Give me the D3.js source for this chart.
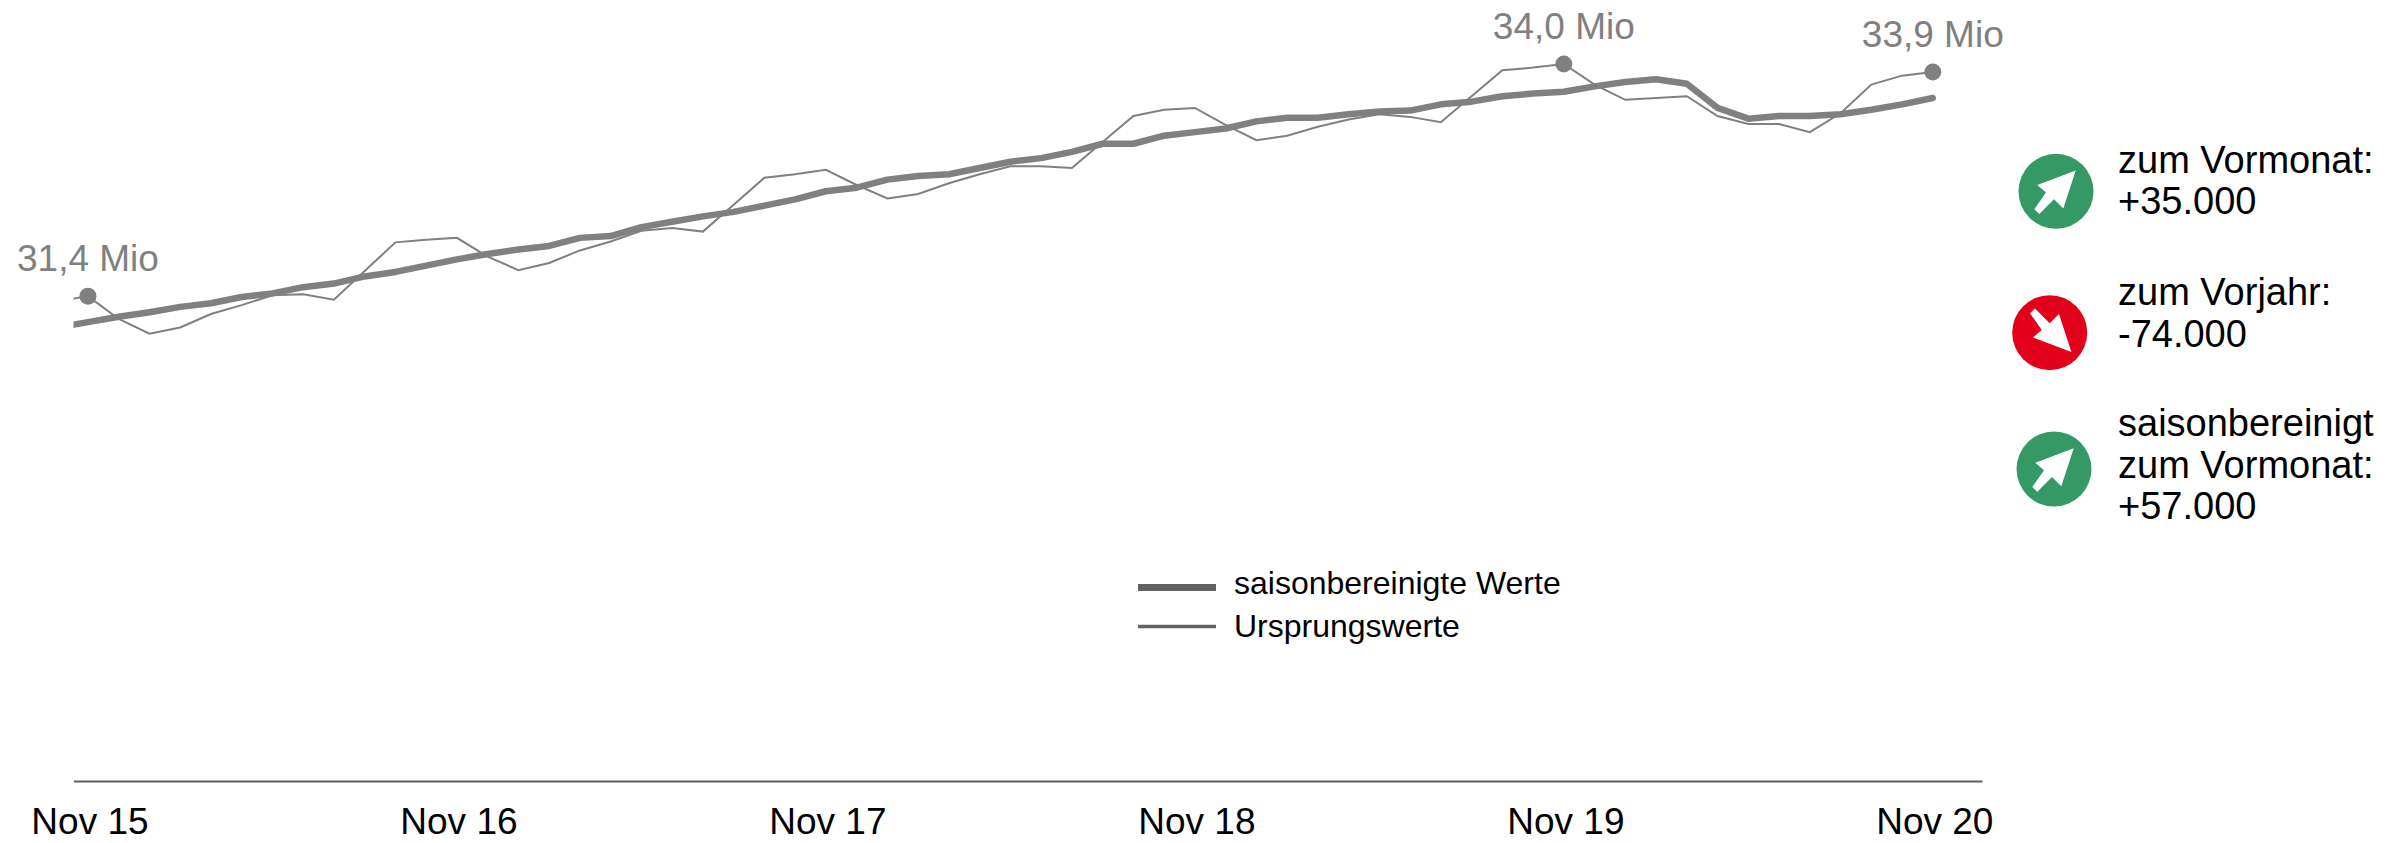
<!DOCTYPE html>
<html>
<head>
<meta charset="utf-8">
<script src="https://cdn.jsdelivr.net/npm/d3@7"></script>
<style>
    html, body { margin: 0; padding: 0; background: #fff; overflow: hidden; }
    text { font-family: "Liberation Sans", Arial, sans-serif; }
</style>
</head>
<body>
<div id="chart"></div>
<script>
// Erwerbstaetige Nov 15 - Nov 20, values in Mio, month index 0 = Nov 15
const tickMonths = [0, 12, 24, 36, 48, 60];
const tickLabels = ["Nov 15", "Nov 16", "Nov 17", "Nov 18", "Nov 19", "Nov 20"];

// first entry of both series is Oct 15, it is cut off by the plot area
const ursprungswerte = [
    31.35, 31.41, 31.155, 30.99, 31.06, 31.21, 31.31, 31.42, 31.43, 31.37, 31.69, 32.01, 32.04,
    32.06, 31.85, 31.70, 31.78, 31.92, 32.02, 32.14, 32.17, 32.13, 32.43, 32.73, 32.77,
    32.82, 32.65, 32.50, 32.55, 32.67, 32.77, 32.86, 32.86, 32.84, 33.13, 33.42, 33.49,
    33.51, 33.32, 33.15, 33.20, 33.30, 33.38, 33.44, 33.41, 33.35, 33.64, 33.93, 33.96,
    34.00, 33.77, 33.60, 33.62, 33.64, 33.42, 33.33, 33.33, 33.24, 33.45, 33.77, 33.87, 33.91
];
const saisonbereinigt = [
    31.06, 31.12, 31.18, 31.23, 31.29, 31.33, 31.40, 31.44, 31.51, 31.55, 31.63, 31.68, 31.75,
    31.82, 31.88, 31.93, 31.97, 32.06, 32.08, 32.18, 32.24, 32.30, 32.35, 32.42, 32.49,
    32.58, 32.62, 32.71, 32.75, 32.77, 32.84, 32.91, 32.95, 33.02, 33.11, 33.11, 33.20,
    33.24, 33.28, 33.36, 33.40, 33.40, 33.44, 33.47, 33.48, 33.55, 33.58, 33.64, 33.67,
    33.69, 33.75, 33.80, 33.83, 33.78, 33.51, 33.39, 33.42, 33.42, 33.44, 33.49, 33.55, 33.62
];

const highlightMonths = [0, 48, 60];
const highlightLabels = ["31,4 Mio", "34,0 Mio", "33,9 Mio"];

const legendLabels = ["saisonbereinigte Werte", "Ursprungswerte"];

const changeLabels = [
    ["zum Vormonat:", "+35.000"],
    ["zum Vorjahr:", "-74.000"],
    ["saisonbereinigt", "zum Vormonat:", "+57.000"]
];
const changeUp = [true, false, true];

(function() {
    const width = 2394, height = 843;
    const grey = "#808080";

    const svg = d3.select("#chart")
        .append("svg")
        .attr("width", width)
        .attr("height", height)
        .style("display", "block");

    // X scale (months), runs on past the last value to the end of the axis line
    const x = d3.scaleLinear()
        .domain([-0.47, 61.6])
        .range([73.5, 1982]);

    // Y scale (Mio)
    const y = d3.scaleLinear()
        .domain([26, 34])
        .range([781, 64]);

    svg.append("clipPath")
        .attr("id", "plot-area")
        .append("rect")
        .attr("x", 73.5)
        .attr("y", 0)
        .attr("width", 1920)
        .attr("height", 781);

    // X axis
    const axis = svg.append("g")
        .attr("transform", "translate(0,781)")
        .call(d3.axisBottom(x)
            .tickValues(tickMonths)
            .tickFormat((d, i) => tickLabels[i])
            .tickSize(0)
            .tickPadding(27));
    axis.select(".domain").attr("stroke", "#5f5f5f").attr("stroke-width", 2);
    axis.selectAll("text")
        .attr("dx", 1.5)
        .attr("fill", "#000")
        .style("font-family", '"Liberation Sans", Arial, sans-serif')
        .style("font-size", "37px");

    const line = d3.line()
        .x((d, i) => x(i - 1))
        .y(d => y(d));

    const lines = svg.append("g").attr("clip-path", "url(#plot-area)");

    // Thin line
    lines.append("path")
        .datum(ursprungswerte)
        .attr("d", line)
        .attr("fill", "none")
        .attr("stroke", grey)
        .attr("stroke-width", 2);

    // Thick line
    lines.append("path")
        .datum(saisonbereinigt)
        .attr("d", line)
        .attr("fill", "none")
        .attr("stroke", grey)
        .attr("stroke-width", 6.5)
        .attr("stroke-linecap", "round")
        .attr("stroke-linejoin", "round");

    // Highlighted points
    svg.selectAll("circle.highlight")
        .data(highlightMonths)
        .enter()
        .append("circle")
        .attr("class", "highlight")
        .attr("cx", d => x(d))
        .attr("cy", d => y(ursprungswerte[d + 1]))
        .attr("r", 8.5)
        .attr("fill", grey);

    svg.selectAll("text.highlight")
        .data(highlightMonths)
        .enter()
        .append("text")
        .attr("class", "highlight")
        .attr("x", d => x(d))
        .attr("y", d => y(ursprungswerte[d + 1]) - 25.5)
        .attr("text-anchor", "middle")
        .attr("fill", grey)
        .style("font-size", "37px")
        .text((d, i) => highlightLabels[i]);

    // Legend
    const legendY = [587.5, 626.5], legendBase = [594, 637], legendWidth = [7, 3.5];
    legendLabels.forEach((label, i) => {
        svg.append("line")
            .attr("x1", 1138)
            .attr("x2", 1216)
            .attr("y1", legendY[i])
            .attr("y2", legendY[i])
            .attr("stroke", "#636363")
            .attr("stroke-width", legendWidth[i]);
        svg.append("text")
            .attr("x", 1234)
            .attr("y", legendBase[i])
            .attr("fill", "#000")
            .style("font-size", "32px")
            .text(label);
    });

    // Change indicators on the right
    const arrow = "M19.7,-20.7 L-18.7,-6.3 L-10,1.3 L-21.7,18 L-16.7,22.7 L-2,8 L7.3,17.3 Z";
    const badgeX = [2056, 2049.7, 2054], badgeY = [191.3, 332.7, 469];
    const firstBase = [172.5, 305, 436];

    changeLabels.forEach((rows, i) => {
        const badge = svg.append("g")
            .attr("transform", `translate(${badgeX[i]},${badgeY[i]})`);
        badge.append("circle")
            .attr("r", 37.5)
            .attr("fill", changeUp[i] ? "#359966" : "#e2001a");
        badge.append("path")
            .attr("d", arrow)
            .attr("fill", "#fff")
            .attr("transform", changeUp[i] ? null : "translate(2,-1.5) scale(1,-1)");

        rows.forEach((row, j) => {
            svg.append("text")
                .attr("x", 2118)
                .attr("y", firstBase[i] + j * 41.6)
                .attr("fill", "#000")
                .style("font-size", "38px")
                .text(row);
        });
    });
})();
</script>
</body>
</html>
